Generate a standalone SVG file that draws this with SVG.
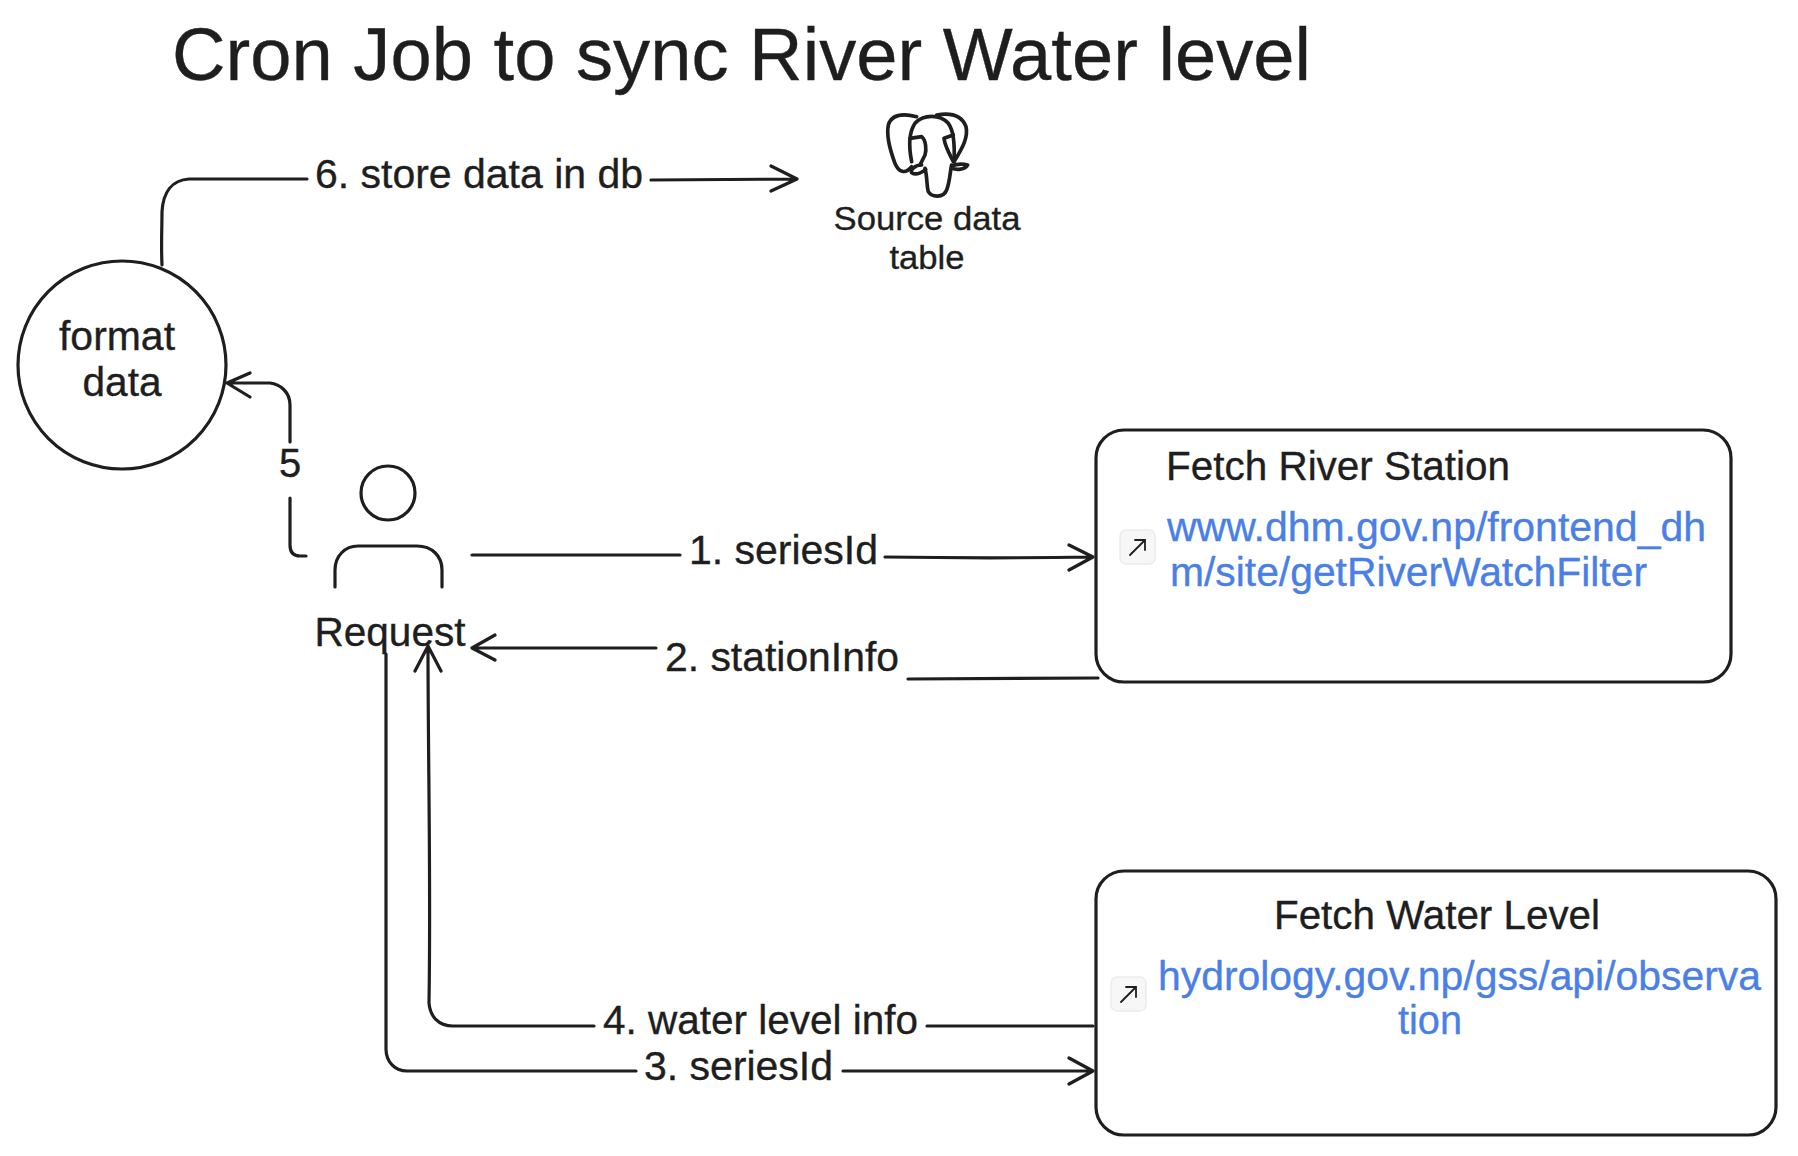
<svg xmlns="http://www.w3.org/2000/svg" width="1798" height="1156" viewBox="0 0 1798 1156">
<style>
text{font-family:"Liberation Sans",Arial,sans-serif;fill:#1e1e1e;font-size:40px;stroke:#1e1e1e;stroke-width:.35}
.m{text-anchor:middle}
.l{fill:#4a80e6;stroke:#4a80e6}
.s{fill:none;stroke:#1e1e1e;stroke-width:3.2;stroke-linecap:round;stroke-linejoin:round}
.i{fill:#f7f7f7;stroke:#ececec;stroke-width:1.5}
.a{fill:none;stroke:#1e1e1e;stroke-width:1.8;stroke-linecap:round}
</style>
<rect width="1798" height="1156" fill="#fff"/>
<g id="title"><text x="172" y="80" style="font-size:74px" textLength="1139" lengthAdjust="spacingAndGlyphs">Cron Job to sync River Water level</text></g>
<g id="connectors" class="s">
<path d="M162 265C161 245 162 228 162 212C163 192 172 180 189 179L307 179M651 180L797 179M771 166L797 179L771 191"/>
<path d="M306 556L300 556C293 556 290 552 290 545L290 498M290 442L290 405C290 392 280 384 270 383L227 383M250 373L227 383L250 397"/>
<path d="M472 555L680 555M885 557C950 558 1030 558 1093 557M1069 545L1093 557L1069 570"/>
<path d="M1098 678L908 679M656 648L472 648M495 635L472 648L495 660"/>
<path d="M386 654L386 1049C386 1062 395 1071 407 1071L636 1071M843 1071L1093 1071M1069 1058L1093 1071L1069 1084"/>
<path d="M1093 1026L927 1026M594 1026L453 1026C438 1026 430 1016 429 1003C431 880 428 760 428 646M415 671L428 646L441 671"/>
</g>
<g id="db">
<g transform="translate(780 90) scale(.3333)" style="fill:none;stroke:#1e1e1e;stroke-width:11;stroke-linecap:round;stroke-linejoin:round">
<path d="M410 80C370 70 335 72 325 105C318 140 330 180 345 220C355 245 375 255 395 230"/>
<path d="M395 215C388 180 385 130 405 100C430 72 480 72 505 100C520 120 525 160 522 215"/>
<path d="M470 75C510 68 545 75 558 110C565 140 550 170 522 215"/>
<path d="M390 145L425 140C438 150 440 180 435 195L420 225"/>
<path d="M520 135L492 145C495 170 510 195 520 215"/>
<path d="M435 235C442 260 440 290 445 305C455 322 490 325 500 300C510 275 510 245 515 225"/>
<path d="M425 225C405 225 390 240 395 248C410 258 430 245 437 238"/>
<path d="M515 228C530 222 550 222 563 225C555 240 530 240 515 235"/>
</g>
<text class="m" x="927" y="230" style="font-size:34px" textLength="187" lengthAdjust="spacingAndGlyphs">Source data</text>
<text class="m" x="927" y="269" style="font-size:34px" textLength="75" lengthAdjust="spacingAndGlyphs">table</text>
</g>
<g id="format-data">
<circle class="s" cx="122" cy="365" r="104"/>
<text class="m" x="117" y="350" textLength="116" lengthAdjust="spacingAndGlyphs">format</text>
<text class="m" x="122" y="396" textLength="79" lengthAdjust="spacingAndGlyphs">data</text>
</g>
<g id="request">
<circle class="s" cx="388" cy="493" r="27"/>
<path class="s" d="M335 587L335 570C335 556 345 546 358 546L417 546C432 546 442 556 442 570L442 587"/>
<text class="m" x="390" y="646" textLength="151" lengthAdjust="spacingAndGlyphs">Request</text>
</g>
<g id="fetch-river-station">
<rect class="s" x="1096" y="430" width="635" height="252" rx="28"/>
<text x="1166" y="480" textLength="344" lengthAdjust="spacingAndGlyphs">Fetch River Station</text>
<rect class="i" x="1120" y="530" width="35" height="34" rx="6"/>
<path class="a" d="M1130 555L1145 540M1135 540L1145 540L1145 550"/>
<text class="l" x="1167" y="541" textLength="539" lengthAdjust="spacingAndGlyphs">www.dhm.gov.np/frontend_dh</text>
<text class="l" x="1170" y="586" textLength="477" lengthAdjust="spacingAndGlyphs">m/site/getRiverWatchFilter</text>
</g>
<g id="fetch-water-level">
<rect class="s" x="1096" y="871" width="680" height="264" rx="28"/>
<text class="m" x="1437" y="929" textLength="326" lengthAdjust="spacingAndGlyphs">Fetch Water Level</text>
<rect class="i" x="1111" y="977" width="35" height="34" rx="6"/>
<path class="a" d="M1121 1002L1136 987M1126 987L1136 987L1136 997"/>
<text class="l" x="1158" y="990" textLength="603" lengthAdjust="spacingAndGlyphs">hydrology.gov.np/gss/api/observa</text>
<text class="l m" x="1430" y="1034" textLength="64" lengthAdjust="spacingAndGlyphs">tion</text>
</g>
<g id="labels">
<text x="315" y="188" textLength="328" lengthAdjust="spacingAndGlyphs">6. store data in db</text>
<text class="m" x="290" y="477">5</text>
<text x="689" y="564" textLength="189" lengthAdjust="spacingAndGlyphs">1. seriesId</text>
<text x="665" y="671" textLength="234" lengthAdjust="spacingAndGlyphs">2. stationInfo</text>
<text x="644" y="1080" textLength="189" lengthAdjust="spacingAndGlyphs">3. seriesId</text>
<text x="603" y="1034" textLength="315" lengthAdjust="spacingAndGlyphs">4. water level info</text>
</g>
</svg>
